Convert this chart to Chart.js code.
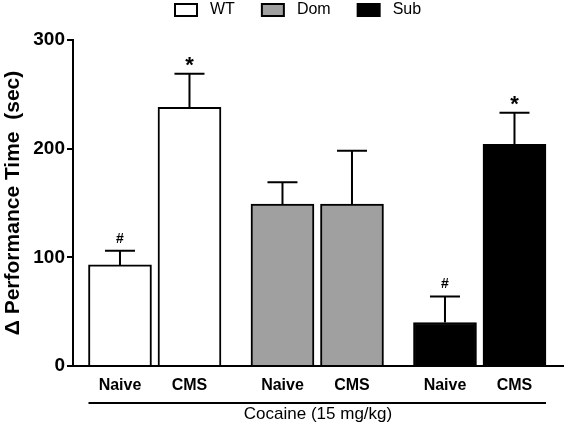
<!DOCTYPE html>
<html>
<head>
<meta charset="utf-8">
<script src="https://cdn.jsdelivr.net/npm/chart.js@4"></script>
<style>html, body { margin: 0; padding: 0; background: #fff; }</style>
</head>
<body>
<canvas id="chart" width="566" height="426"></canvas>
<script>
// data
const groups = ['WT', 'Dom', 'Sub'];
const conditions = ['Naive', 'CMS'];
const wtMean = [93, 238];
const domMean = [149, 149];
const subMean = [40, 204];
const wtSem = [13, 31];
const domSem = [20, 49];
const subSem = [24, 29];
const wtMarks = ['#', '*'];
const domMarks = ['', ''];
const subMarks = ['#', '*'];
const yTicks = [0, 100, 200, 300];
const xTitle = 'Cocaine (15 mg/kg)';
const yTitle = '\u0394 Performance Time  (sec)';

Chart.defaults.font.family = '"Liberation Sans", Arial, sans-serif';
Chart.defaults.color = '#000';

// bar slots: pairs inside a group, wider gap between groups
const groupStep = 2.338;
const slot = (g, i) => g * groupStep + i;
const slots = groups.flatMap((g, gi) => conditions.map((c, i) => slot(gi, i)));

const fills = ['#ffffff', '#a0a0a0', '#000000'];
const means = [wtMean, domMean, subMean];
const sems = [wtSem, domSem, subSem];
const marks = [wtMarks, domMarks, subMarks];

const datasets = groups.map((g, gi) => ({
    label: g,
    data: means[gi].map((v, i) => ({ x: slot(gi, i), y: v })),
    sem: sems[gi],
    marks: marks[gi],
    backgroundColor: fills[gi],
    borderColor: '#000',
    borderWidth: 2,
    barThickness: 63,
    grouped: false
}));

const errorBars = {
    id: 'errorBars',
    afterDatasetsDraw(chart) {
        const ctx = chart.ctx;
        const y = chart.scales.y;
        ctx.save();
        ctx.strokeStyle = '#000';
        ctx.lineWidth = 2;
        ctx.fillStyle = '#000';
        ctx.textAlign = 'center';
        ctx.textBaseline = 'middle';
        chart.data.datasets.forEach((ds, d) => {
            chart.getDatasetMeta(d).data.forEach((bar, i) => {
                const top = y.getPixelForValue(ds.data[i].y + ds.sem[i]);
                ctx.beginPath();
                ctx.moveTo(bar.x, bar.y);
                ctx.lineTo(bar.x, top);
                ctx.moveTo(bar.x - 15, top);
                ctx.lineTo(bar.x + 15, top);
                ctx.stroke();
                const m = ds.marks[i];
                if (m === '#') {
                    ctx.font = 'bold 14px "Liberation Sans", Arial';
                    ctx.fillText(m, bar.x, top - 12);
                } else if (m === '*') {
                    ctx.font = 'bold 22px "Liberation Sans", Arial';
                    ctx.fillText(m, bar.x, top - 8);
                }
            });
        });
        ctx.restore();
    }
};

// legend and the bracket line under the tick labels
const extras = {
    id: 'extras',
    afterDraw(chart) {
        const ctx = chart.ctx;
        ctx.save();
        const first = chart.getDatasetMeta(0).data[0];
        const lastMeta = chart.getDatasetMeta(chart.data.datasets.length - 1).data;
        const last = lastMeta[lastMeta.length - 1];
        ctx.strokeStyle = '#000';
        ctx.lineWidth = 2;
        ctx.beginPath();
        ctx.moveTo(first.x - first.width / 2, 403);
        ctx.lineTo(last.x + last.width / 2, 403);
        ctx.stroke();

        // legend
        ctx.font = '16px "Liberation Sans", Arial';
        ctx.textBaseline = 'middle';
        ctx.textAlign = 'left';
        let x = 175;
        chart.data.datasets.forEach(ds => {
            ctx.fillStyle = ds.backgroundColor;
            ctx.fillRect(x, 4, 22, 12);
            ctx.strokeRect(x, 4, 22, 12);
            ctx.fillStyle = '#000';
            ctx.fillText(ds.label, x + 35, 10);
            x += 35 + ctx.measureText(ds.label).width + 27;
        });
        ctx.restore();
    }
};

new Chart(document.getElementById('chart'), {
    type: 'bar',
    data: { datasets: datasets },
    plugins: [errorBars, extras],
    options: {
        responsive: false,
        animation: false,
        devicePixelRatio: 1,
        layout: { padding: { top: 40, right: 3, left: 0, bottom: 0 } },
        plugins: { legend: { display: false }, tooltip: { enabled: false } },
        scales: {
            x: {
                type: 'linear',
                min: -0.676,
                max: 6.374,
                offset: false,
                grid: { display: false, drawTicks: false },
                border: { display: true, color: '#000', width: 2 },
                afterBuildTicks: s => { s.ticks = slots.map(v => ({ value: v })); },
                afterFit: s => { s.height = 60; },
                ticks: {
                    autoSkip: false,
                    maxRotation: 0,
                    padding: 10,
                    font: { size: 16, weight: 'bold' },
                    callback: (v, i) => conditions[i % conditions.length]
                },
                title: {
                    display: true,
                    text: xTitle,
                    font: { size: 17 },
                    padding: { top: 0, bottom: 1 }
                }
            },
            y: {
                min: 0,
                max: 300,
                afterBuildTicks: s => { s.ticks = yTicks.map(v => ({ value: v })); },
                afterFit: s => { s.width = 73; },
                grid: { drawOnChartArea: false, drawTicks: true, tickLength: 6, color: '#000', lineWidth: 2 },
                border: { display: true, color: '#000', width: 2 },
                ticks: { padding: 2, font: { size: 19, weight: 'bold' } },
                title: {
                    display: true,
                    text: yTitle,
                    font: { size: 21, weight: 'bold' },
                    padding: { top: 1, bottom: 0 }
                }
            }
        }
    }
});
</script>
</body>
</html>
